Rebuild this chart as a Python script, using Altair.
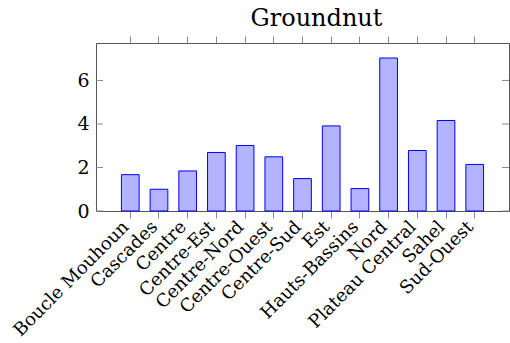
import altair as alt
import pandas as pd

# Groundnut values per region
regions = [
    "Boucle Mouhoun", "Cascades", "Centre", "Centre-Est", "Centre-Nord",
    "Centre-Ouest", "Centre-Sud", "Est", "Hauts-Bassins", "Nord",
    "Plateau Central", "Sahel", "Sud-Ouest",
]
values = [1.67, 1.0, 1.84, 2.69, 3.01, 2.49, 1.49, 3.91, 1.03, 7.03, 2.78, 4.16, 2.14]
y_ticks = [0, 2, 4, 6]

FONT = "DejaVu Serif"
FRAME = "#555555"
TICK = "#8a8a8a"

df = pd.DataFrame({"region": regions, "value": values})
ticks_df = pd.DataFrame({"t": y_ticks})

x_scale = alt.Scale(domain=regions, paddingInner=0.383, paddingOuter=0.886)
y_scale = alt.Scale(domain=[0, 7.72], nice=False, zero=True)

bars = alt.Chart(df).mark_bar(
    fill="#b3b3ff", stroke="#0000ff", strokeWidth=1
).encode(
    x=alt.X("region:N", scale=x_scale, sort=regions, title=None,
            axis=alt.Axis(orient="bottom", labelAngle=-45, labelFont=FONT,
                          labelFontSize=18, labelColor="#000000",
                          labelAlign="right", labelBaseline="middle",
                          labelOffset=-4,
                          tickSize=7, tickColor=TICK, domain=False,
                          labelPadding=6, labelLimit=400)),
    y=alt.Y("value:Q", scale=y_scale, title=None,
            axis=alt.Axis(values=y_ticks, ticks=False, domain=False, grid=False,
                          labelFont=FONT, labelFontSize=19, labelColor="#000000",
                          labelPadding=7)),
)

# mirrored x ticks along the top edge
top_axis = alt.Chart(df).mark_bar(opacity=0).encode(
    x=alt.X("region:N", scale=x_scale, sort=regions, title=None,
            axis=alt.Axis(orient="top", labels=False, tickSize=7,
                          tickColor=TICK, domain=False)),
    y=alt.Y("value:Q", scale=y_scale, axis=None),
)

# inward y ticks on both sides of the frame
left_ticks = alt.Chart(ticks_df).mark_rule(color=TICK, strokeWidth=1).encode(
    y=alt.Y("t:Q", scale=y_scale, axis=None),
    x=alt.value(0), x2=alt.value(7),
)
right_ticks = alt.Chart(ticks_df).mark_rule(color=TICK, strokeWidth=1).encode(
    y=alt.Y("t:Q", scale=y_scale, axis=None),
    x=alt.value(406), x2=alt.value(413),
)

chart = alt.layer(bars, top_axis, left_ticks, right_ticks).resolve_axis(
    x="independent", y="independent"
).properties(
    width=413,
    height=168,
    title=alt.TitleParams("Groundnut", font=FONT, fontSize=24, frame="group",
                          anchor="middle", fontWeight="normal", dx=14,
                          color="#000000", offset=5),
    autosize=alt.AutoSizeParams(type="none"),
    padding={"left": 96, "top": 43, "right": 1, "bottom": 132},
).configure(
    background="white"
).configure_view(
    stroke=FRAME, strokeWidth=1
)

chart.save("out.html", embed_options={"renderer": "svg", "actions": False})
